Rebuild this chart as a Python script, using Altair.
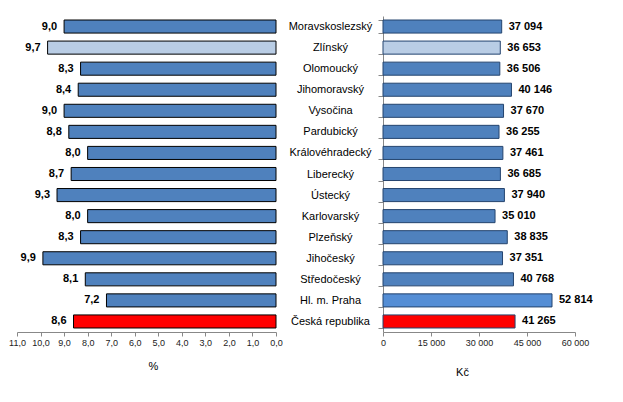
import altair as alt
import pandas as pd

regions = ["Moravskoslezský", "Zlínský", "Olomoucký", "Jihomoravský", "Vysočina",
           "Pardubický", "Královéhradecký", "Liberecký", "Ústecký", "Karlovarský",
           "Plzeňský", "Jihočeský", "Středočeský", "Hl. m. Praha", "Česká republika"]
rate = [9.0, 9.7, 8.3, 8.4, 9.0, 8.8, 8.0, 8.7, 9.3, 8.0, 8.3, 9.9, 8.1, 7.2, 8.6]
wage = [37094, 36653, 36506, 40146, 37670, 36255, 37461, 36685, 37940, 35010,
        38835, 37351, 40768, 52814, 41265]
kind = ["region", "highlight", "region", "region", "region", "region", "region",
        "region", "region", "region", "region", "region", "region", "capital", "total"]
rate_ticks = [11, 10, 9, 8, 7, 6, 5, 4, 3, 2, 1, 0]
wage_ticks = [0, 15000, 30000, 45000, 60000]

df = pd.DataFrame({"region": regions, "rate": rate, "wage": wage, "kind": kind})

FONT = "Liberation Sans"
kinds = ["region", "highlight", "capital", "total"]

rate_axis = alt.Axis(values=rate_ticks, tickCount=12, grid=False,
                     labelOverlap=False, labelFlush=False,
                     labelExpr="replace(format(datum.value, '.1f'), '.', ',')",
                     title="%", titleX=136, titleY=28, titleBaseline="top",
                     titleAlign="center", titleFontWeight="normal",
                     titleFontSize=11, titleFont=FONT,
                     labelFont=FONT, labelFontSize=9, labelColor="#222",
                     domainColor="#888", tickColor="#888", tickSize=4,
                     labelPadding=2)
rate_scale = alt.Scale(domain=[0, 11], reverse=True, nice=False)
band = alt.Scale(paddingInner=0.38, paddingOuter=0.19)

left_base = alt.Chart(df).properties(width=259, height=316)
left_bars = left_base.mark_bar(stroke="black", strokeWidth=1).encode(
    x=alt.X("rate:Q", scale=rate_scale, axis=rate_axis),
    y=alt.Y("region:N", sort=regions, scale=band, axis=None),
    color=alt.Color("kind:N", legend=None,
                    scale=alt.Scale(domain=kinds,
                                    range=["#4F81BD", "#B9CDE5", "#4F81BD", "#FF0000"])),
)
left_text = left_base.transform_calculate(
    lab="replace(format(datum.rate, '.1f'), '.', ',')"
).mark_text(align="right", baseline="middle", dx=-7, font=FONT,
            fontSize=11, fontWeight="bold", color="black").encode(
    x=alt.X("rate:Q", scale=rate_scale, axis=rate_axis),
    y=alt.Y("region:N", sort=regions, scale=band, axis=None),
    text="lab:N",
)
left = alt.layer(left_bars, left_text)

wage_axis = alt.Axis(values=wage_ticks, grid=False, labelOverlap=False,
                     labelFlush=False,
                     labelExpr="replace(format(datum.value, ','), ',', ' ')",
                     title="Kč", titleX=79, titleY=34, titleBaseline="top",
                     titleAlign="center", titleFontWeight="normal",
                     titleFontSize=11, titleFont=FONT,
                     labelFont=FONT, labelFontSize=9, labelColor="#222",
                     domainColor="#888", tickColor="#888", tickSize=4,
                     labelPadding=2)
wage_scale = alt.Scale(domain=[0, 60000], nice=False)
region_axis = alt.Axis(title=None, tickBand="extent", labelAlign="center",
                       labelPadding=48, tickSize=5, domainColor="#888",
                       tickColor="#888", labelColor="black", labelFont=FONT,
                       labelFontSize=11)

right_base = alt.Chart(df).properties(width=192, height=316)
right_bars = right_base.mark_bar(stroke="#24446E", strokeWidth=1).encode(
    x=alt.X("wage:Q", scale=wage_scale, axis=wage_axis),
    y=alt.Y("region:N", sort=regions, scale=band, axis=region_axis),
    color=alt.Color("kind:N", legend=None,
                    scale=alt.Scale(domain=kinds,
                                    range=["#4F81BD", "#B9CDE5", "#558ED5", "#FF0000"])),
)
right_text = right_base.transform_calculate(
    lab="replace(format(datum.wage, ','), ',', ' ')"
).mark_text(align="left", baseline="middle", dx=7, font=FONT,
            fontSize=11, fontWeight="bold", color="black").encode(
    x=alt.X("wage:Q", scale=wage_scale, axis=wage_axis),
    y=alt.Y("region:N", sort=regions, scale=band, axis=region_axis),
    text="lab:N",
)
right = alt.layer(right_bars, right_text)

chart = alt.hconcat(left, right, spacing=107, bounds="flush").resolve_scale(
    color="independent"
).properties(
    padding={"left": 0, "top": 2, "right": 5, "bottom": 5}
).configure_view(stroke=None)

chart.save("out.html", embed_options={"renderer": "svg", "actions": False})
